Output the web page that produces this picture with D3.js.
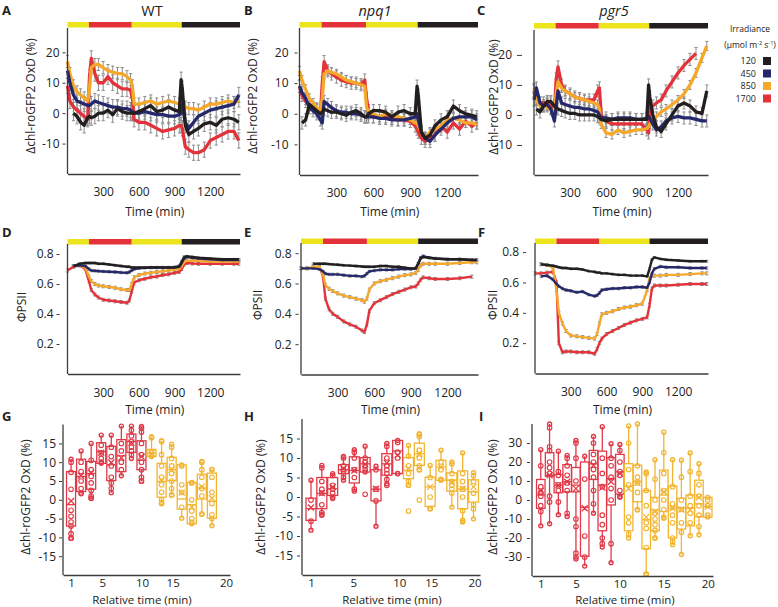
<!DOCTYPE html>
<html><head><meta charset="utf-8">
<script src="https://cdn.jsdelivr.net/npm/d3@7"></script>
<style>
body{margin:0;background:#fff}
svg{display:block}
text{font-family:"Open Sans",sans-serif;fill:#222}
</style></head>
<body><svg id="chart" width="778" height="607"></svg>
<script>
// ---------------- DATA ----------------
const levels = ["120","450","850","1700"];
const phases = [[0,180,"y"],[180,540,"r"],[540,960,"y"],[960,1450,"k"]];
const timeTicks = [300,600,900,1200];

// Top row: Δchl-roGFP2 OxD (%) over time (min)
const tOx = [0,20,50,80,110,140,170,185,200,230,260,300,340,380,420,460,500,530,545,560,600,650,700,750,800,850,900,940,955,965,990,1020,1060,1100,1150,1200,1250,1300,1350,1400,1440];

const oxWT_120  = [null,null,0,-1,-3,-4,-1.5,-1,-1.5,-1,0,0,1,-0.5,1.5,0.5,0,0,0,0,0.5,1.5,2.5,0.5,1,2,1,0.5,11,8,-4,-7,-6,-5,-3.5,-3,-4,-2,-1.5,-2,-3];
const oxWT_450  = [14,10,6,4,3.5,3,2.5,2.5,3,4,3.5,3,2.5,2,2,1.5,1.5,1,0.5,0,0,0.5,0,-0.5,-0.5,-1,-1,-0.5,0,3,-3,-5,-3,-1,0,1,1.5,2,2.5,3,6];
const oxWT_850  = [17,13,9,7,6,5,4,8,15,16,16,15,14,13.5,13,13,12,11,9,3,3,3.5,4,3,3.5,4,3.5,3,2,4,2,1.5,1.5,1,2,3,3,3.5,4,3.5,4];
const oxWT_1700 = [9,4,2,1,0,-1,-2,12,18,13,10,10,12,10,9,8,8,7.5,5,-2,-3,-3,-4,-5,-6,-5.5,-5,-4,-4,-5,-11,-12,-13,-13,-12,-9,-8,-7,-6,-6,-9];

const oxNPQ_120  = [null,-3,-2,3,2,1,0,0.5,1.5,1,0.5,0.5,0,-0.5,0.5,1,0,-1,-1,0,1,1,0.5,-1,0.5,1,0,0,9,6,-6,-8,-7,-4,-2,-1,2.5,1,0,-0.5,-1];
const oxNPQ_450  = [9,7,5,2,1,0,-2,-3,4,3,2,1,0.5,0.5,0,0,-0.5,-1,-1,-1,-1,-1.5,-1.5,-2,-2,-2,-1.5,-1,0,-2,-6,-8,-9,-7,-5,-3,-1.5,-1,-1,-1,-2];
const oxNPQ_850  = [14,11,8,5,3.5,2,1,5,13,14,13.5,13,12,11,10.5,10,9.5,9,2,1,0,-1,0,-0.5,-1,-1.5,-2,-3,-3,-4,-6,-8,-6,-5,-4,-2,-1.5,-2,-3,-3,-3.5];
const oxNPQ_1700 = [9,6,4,3,2,1.5,0,10,17,14,13,12,11,10.5,10,10,9.5,11,5,1,-1,-1,-1,-1.5,-2,-2,-2.5,-4,-5,-6,-8,-9,-8,-7,-4,-6,-3,-5,-2.5,-4,-3];

const oxPGR_120  = [null,2,1,3,4.5,4.5,3,2.5,2,1.5,1,0.5,0.5,0,0,0,0,-0.5,-1,-1.5,-2,-1.5,-1.5,-1.5,-1.5,-1.5,-1.5,-1.5,10,6,0,-4,-5.5,-3,0,3,4,3,1,0.5,8];
const oxPGR_450  = [5,9,4,3,3.5,2,-2,3,8,4,3.5,3,2.5,2.5,2,2,1.5,1,0,-1,-1,-1.5,-1,-1,-1,-1.5,-1.5,-1,-0.5,-1,-3,-5,-4,-2,-1,-0.5,-1,-1,-1.5,-2,-2];
const oxPGR_850  = [9,5,3,3,2.5,2,1,7,11,9,8,7,6,5.5,5,4.5,4,3.5,2,-3,-6,-6.5,-5,-6,-5.5,-5,-5,-4.5,-4,-3,-2,-0.5,1,2,3.5,5,7,10,14,19,23];
const oxPGR_1700 = [8,5,4,4,4,4,1,12,16,10,8,7,6,5.5,5,5,5,8,9,0,-2,-3,-3,-3,-3,-3,-3,-5,-6,3,3,4,5,8,11,14,16.5,18.5,20.5,null,null];

const errOxWT  = [2.5,2.5,2,2.5];
const errOxNPQ = [2,2,1.5,2];
const errOxPGR = [2,2,1.5,2];

// Middle row: ΦPSII over time (min)
const tPs = [0,50,100,150,180,200,230,260,300,350,400,450,500,520,540,560,600,650,700,750,800,850,900,940,960,980,1000,1050,1100,1200,1300,1400,1440];

const psWT_120  = [null,0.72,0.735,0.74,0.74, 0.74,0.74,0.735,0.735,0.73, 0.725,0.72,0.715,0.715,0.71, 0.71,0.71,0.71,0.71,0.71, 0.71,0.71,0.71,0.715,0.74, 0.77,0.785,0.78,0.775,0.77, 0.765,0.765,0.765];
const psWT_450  = [null,0.72,0.725,0.72,0.70, 0.69,0.688,0.686,0.684,0.682, 0.68,0.677,0.675,0.68,0.69, 0.70,0.705,0.708,0.71,0.71, 0.71,0.71,0.712,0.72,0.75, 0.78,0.78,0.775,0.77,0.765, 0.76,0.76,0.76];
const psWT_850  = [null,0.72,0.725,0.71,0.65, 0.62,0.60,0.59,0.585,0.58, 0.575,0.565,0.56,0.56,0.60, 0.645,0.66,0.67,0.675,0.68, 0.685,0.69,0.695,0.70,0.72, 0.745,0.755,0.755,0.755,0.75, 0.75,0.75,0.75];
const psWT_1700 = [0.69,0.715,0.725,0.70,0.62, 0.56,0.53,0.51,0.495,0.49, 0.485,0.48,0.475,0.49,0.55, 0.61,0.625,0.635,0.645,0.65, 0.66,0.665,0.675,0.68,0.70, 0.73,0.74,0.737,0.735,0.735, 0.735,0.735,0.735];

const psNPQ_120  = [null,null,0.73,0.73,0.73, 0.73,0.728,0.726,0.724,0.72, 0.718,0.715,0.712,0.71,0.71, 0.71,0.71,0.715,0.715,0.71, 0.71,0.705,0.70,0.70,0.73, 0.765,0.775,0.77,0.765,0.76, 0.76,0.755,0.755];
const psNPQ_450  = [0.70,0.70,0.70,0.695,0.68, 0.665,0.66,0.66,0.66,0.655, 0.65,0.65,0.645,0.65,0.665, 0.68,0.685,0.69,0.69,0.69, 0.695,0.695,0.695,0.70,0.73, 0.77,0.78,0.77,0.765,0.76, 0.76,0.755,0.755];
const psNPQ_850  = [0.70,0.70,0.71,0.71,0.66, 0.59,0.565,0.55,0.535,0.52, 0.51,0.50,0.49,0.48,0.50, 0.56,0.60,0.615,0.625,0.635, 0.645,0.655,0.66,0.67,0.69, 0.72,0.73,0.73,0.73,0.73, 0.735,0.74,0.74];
const psNPQ_1700 = [null,null,null,0.71,0.65, 0.50,0.43,0.40,0.38,0.35, 0.33,0.315,0.29,0.28,0.33, 0.42,0.47,0.49,0.51,0.53, 0.545,0.56,0.575,0.58,0.60, 0.625,0.64,0.635,0.63,0.63, 0.635,0.645,null];

const psPGR_120  = [null,0.72,0.715,0.71,0.705, 0.70,0.695,0.695,0.69,0.69, 0.685,0.675,0.67,0.665,0.665, 0.66,0.66,0.655,0.65,0.65, 0.645,0.645,0.645,0.64,0.69, 0.75,0.765,0.755,0.75,0.745, 0.74,0.74,0.74];
const psPGR_450  = [null,0.64,0.645,0.62,0.59, 0.575,0.56,0.55,0.545,0.535, 0.54,0.52,0.51,0.515,0.53, 0.55,0.555,0.56,0.56,0.565, 0.565,0.57,0.57,0.565,0.60, 0.66,0.69,0.705,0.70,0.70, 0.695,0.695,0.695];
const psPGR_850  = [null,0.72,0.715,0.70,0.55, 0.40,0.33,0.28,0.25,0.245, 0.24,0.235,0.23,0.26,0.33, 0.39,0.40,0.41,0.425,0.435, 0.44,0.45,0.46,0.55,0.63, 0.645,0.645,0.645,0.65,0.65, 0.655,0.66,0.66];
const psPGR_1700 = [0.66,0.66,0.665,0.67,0.60, 0.20,0.14,0.145,0.145,0.14, 0.14,0.14,0.13,0.16,0.20, 0.23,0.26,0.28,0.30,0.32, 0.335,0.35,0.36,0.37,0.45, 0.56,0.58,0.58,0.58,0.585, 0.59,0.59,0.59];

const errPs = [0.006,0.008,0.01,0.01];

// Bottom row: box plots, each row [min, q1, median, q3, max, mean]
const boxWT = [
 [-10.2,-7,-1.3,7.5,10.8,-0.3],[1.6,2.2,6.2,10.8,13,6.4],[0.4,2.8,7,10.2,15,7.2],[9.7,9.7,12.8,15.2,17.2,12.5],
 [1.9,5.1,9.3,14.2,17.2,9.9],[6.4,7.5,11.7,16,19.6,11.2],[11,12.6,15.5,17.5,19.6,15.2],[4.9,8,10.5,15.7,19.5,11.5],
 [11.5,11.5,12.4,13.4,16.8,12.4],[-0.7,0.7,4.9,9.7,15.7,5.3],[1.3,5.1,8,11.3,14.8,8],[-4.9,-2.5,0.2,9.3,9.3,1.9],
 [-6.4,-6.4,-1.3,4.6,4.6,-1.9],[-3.8,0.2,3.1,6.8,10.2,3.5],[-6.9,-4.9,-0.4,7.1,8.1,0.4]];
const ptsWT = [
 [10,7.3,2.8,-2.8,-4.4,-5.9,-7,-9,-10.2],[10,7.5,5,3,1.8],[10.5,8,6.2,4.5,2.5,1,0.4],[14.5,12.5,11,10],
 [14,11.5,9,6,4.5,3],[15,13,10,8],[18.5,17,15.5,14,13,12],[19,18,15,12,10,8,6,5],
 [16.5,12.5,11.8],[15.5,12,9,6,4,2,0,-1],[14,11,9,7,5,3,1.3],[9,4,2,-2],
 [4.5,0,-3,-5,-6],[10,8,6,3,1,-3.8],[8,6,2,-1,-4,-5]];
const redWT = 8;
const tickSlotsWT = [1,4.1,8.05,11.1,16.4];

const boxNPQ = [
 [-8.5,-6,-3,-0.3,4.3,-2.7],[-4.7,-3,0.9,5,8.1,1],[-0.4,0.4,2.1,5,6,2.6],[4.3,6,7,8.3,10.4,7.3],
 [1.5,3.6,6.8,10.3,12.1,6.8],[6.4,6.4,8.5,10.1,13,8.4],[-7.5,-1,2,7,7.9,2.1],[3.4,5.6,8.5,11.1,13.7,8.7],
 [6,6,11.8,14.5,14.5,10.7],[3,4.7,6.8,10.1,13.2,7.3],[7,8.1,11.1,13.8,16.2,11.1],[-3,-2.4,2.6,5.1,8.1,2.6],
 [4.3,4.3,7.7,9.4,12,7.7],[-2.6,1.5,4.3,6.2,9,3.8],[-6.4,-3,2,6.7,11.3,2.1],[-5.6,-1.3,1.3,4.4,6.2,2.6]];
const ptsNPQ = [
 [-0.8,-6.2],[7.5,4,2,1,-2,-4,-4.5],[5.5,3,2,1,0],[10,8,7,6,5],
 [11.5,10,7,5,2],[10,9,8,7,0.7],[7,2,-1],[13,10,8,7,6,4.5,3],
 [14,11.5,10,6],[10.5,8,6,4,3,-3.6],[16,15.5,12,10,8,7,-0.8],[5,0,-3],
 [9,7,4.5],[8.5,6,4,3,2,1],[6,4,2,0,-3.5,-6],[5.5,4,1,-2,-3]];
const redNPQ = 9;
const tickSlotsNPQ = [1,4.9,9.15,12.1,16.1];

const boxPGR = [
 [-13.6,-4.4,2.6,10.8,26.5,4.9],[-12.5,12.5,13,24.9,40,13],[-7.8,3.8,7.8,13.4,25.7,7.8],[-8.7,4.3,9.6,18.6,23.5,9.6],
 [-31,4.3,7.8,17.1,31.3,6],[-34.8,-29.6,-3.8,20,23,-4.3],[-7,10.8,19,26.1,33.4,18.3],[-24.7,-16.2,7.8,25.7,38.6,6.5],
 [-33,-2.6,11.3,22.3,29.6,9.6],[1.4,3.1,14.8,24,29.2,13.9],[-20,-16.2,7.3,19.1,39,6],[-5.2,-0.9,9.6,18.3,40,9],
 [-39,-25.7,-10.4,4.9,14.8,-9],[-20,-16.2,-5.2,1.4,21.2,-6.1],[-9.6,-6.1,2.6,15.7,35.7,4.3],[-23.5,-20,-4.3,7.3,21.2,-4.3],
 [-28.7,-15.3,-4,0.9,20.9,-5],[-18.8,-13.6,-4.3,2.6,24.7,-5.2],[-18.3,-8.7,-2,10.4,19.1,1.4],[-9,-9,-3.5,1.4,1.4,-3.5]];
const ptsPGR = [
 [18,7,4,2,-3,-6],[38,28,26,20,17,14,2,-1],[15,13,8,5,-1],[22,18,13,9,5,-7],
 [30,22,10,-10,-14,-28,-30],[11,-19,-30],[30,24,20,16,12,5,-2],[22,14,7,-8,-13,-20,-23],
 [22,18,12,6,0,-23],[26,20,15,13,5,2],[30,16,8,-9,-12,-18],[18,12,9,4,-5],
 [14,5,-3,-12,-15,-25,-39],[11,0,-7,-10,-13,-16,-20],[25,14,5,0,-5,-9],[7,-2,-8,-12,-20,-22],
 [12,0,-5,-12,-17],[15,2,-3,-7,-12],[14,8,2,-3,-8,-14],[0,-3,-8]];
const redPGR = 10;
const tickSlotsPGR = [1,5,10,15,20];
const relTickLabels = ["1","5","10","15","20"];

// ---------------- STYLE ----------------
const colors = {"120":"#231f20","450":"#25296b","850":"#f5a82a","1700":"#e4323b"};
const phaseColors = {y:"#ece41c", r:"#e4323b", k:"#231f20"};
const boxRed = "#e03a48", boxOrange = "#f2b531";
const axisColor = "#3c3c3c", errColor = "#8d8d8d";
const drawOrder = [3,2,1,0];
const FS = "12px";

const svg = d3.select("#chart");
const fmtPlain = d => String(d);

function styleAxis(g, fs){
  g.select(".domain").attr("stroke", axisColor).attr("stroke-width", 1.3);
  g.selectAll(".tick line").attr("stroke", axisColor).attr("stroke-width", 1);
  g.selectAll("text").attr("font-size", fs||FS).attr("fill", "#222")
   .style("font-family","'Open Sans', sans-serif");
}
function yAxis(y, o, ticks, fmt){
  svg.append("line").attr("x1",o.x0).attr("x2",o.x0).attr("y1",o.y0).attr("y2",o.y1)
     .attr("stroke",axisColor).attr("stroke-width",1.3);
  const ya = svg.append("g").attr("transform",`translate(${o.x0-o.yGap},0)`)
    .call(d3.axisLeft(y).tickValues(ticks).tickSize(o.yTick||3).tickSizeOuter(0).tickPadding(o.yPad).tickFormat(fmt));
  ya.select(".domain").remove();
  styleAxis(ya);
}

function timePanel(o){
  const x = d3.scaleLinear().domain([0,1450]).range([o.x0,o.x1]);
  const y = d3.scaleLinear().domain(o.yDom).range([o.y0,o.y1]);
  const g = svg.append("g");
  phases.forEach(p=>{
    g.append("rect").attr("x",x(p[0])).attr("width",x(p[1])-x(p[0]))
     .attr("y",o.barY).attr("height",5.5).attr("fill",phaseColors[p[2]]);
  });
  const eg = g.append("g").attr("stroke",errColor).attr("stroke-width",1);
  drawOrder.forEach(si=>{
    const vals = o.series[si], e = o.err[si];
    o.t.forEach((t,i)=>{
      const v = vals[i]; if(v==null) return;
      eg.append("line").attr("x1",x(t)).attr("x2",x(t)).attr("y1",y(v-e)).attr("y2",y(v+e));
      eg.append("line").attr("x1",x(t)-1.6).attr("x2",x(t)+1.6).attr("y1",y(v-e)).attr("y2",y(v-e));
      eg.append("line").attr("x1",x(t)-1.6).attr("x2",x(t)+1.6).attr("y1",y(v+e)).attr("y2",y(v+e));
    });
  });
  const line = d3.line().defined(d=>d[1]!=null).x(d=>x(d[0])).y(d=>y(d[1]));
  drawOrder.forEach(si=>{
    const pts = o.t.map((t,i)=>[t,o.series[si][i]]);
    g.append("path").datum(pts).attr("d",line).attr("fill","none")
     .attr("stroke",colors[levels[si]]).attr("stroke-width",o.lw)
     .attr("stroke-linejoin","round");
  });
  const xa = g.append("g").attr("transform",`translate(0,${o.y0})`)
    .call(d3.axisBottom(x).tickValues(timeTicks).tickSize(0).tickSizeOuter(0).tickPadding(o.xPad).tickFormat(fmtPlain));
  styleAxis(xa);
  yAxis(y, o, o.yTicks, o.fmt);
  g.append("text").attr("x",(o.x0+o.x1)/2+1).attr("y",o.xTitleY).attr("text-anchor","middle")
   .attr("font-size",FS).text("Time (min)");
  g.append("text").attr("transform",`translate(${o.yTitleX},${o.yTitleY}) rotate(-90)`)
   .attr("text-anchor","middle").attr("dominant-baseline","middle").attr("font-size",FS).text(o.yTitle);
}

function boxPanel(o){
  const x = d3.scaleLinear().domain(o.slotDom).range([o.x0,o.x1]);
  const y = d3.scaleLinear().domain(o.yDom).range([o.y0,o.y1]);
  const g = svg.append("g").attr("fill","none").attr("stroke-width",1.3);
  o.stats.forEach((s,i)=>{
    const c = i < o.nRed ? boxRed : boxOrange;
    const cx = x(i+1), w = o.bw;
    const [lo,q1,med,q3,hi,mean] = s;
    const b = g.append("g").attr("stroke",c);
    b.append("line").attr("x1",cx).attr("x2",cx).attr("y1",y(hi)).attr("y2",y(q3));
    b.append("line").attr("x1",cx).attr("x2",cx).attr("y1",y(q1)).attr("y2",y(lo));
    b.append("rect").attr("x",cx-w/2).attr("y",y(q3)).attr("width",w).attr("height",Math.max(1,y(q1)-y(q3))).attr("fill","none");
    b.append("line").attr("x1",cx-w/2).attr("x2",cx+w/2).attr("y1",y(med)).attr("y2",y(med));
    const m = 3, my = y(mean);
    b.append("path").attr("d",`M${cx-m},${my-m}L${cx+m},${my+m}M${cx-m},${my+m}L${cx+m},${my-m}`);
    o.pts[i].forEach(v=>{
      b.append("circle").attr("cx",cx).attr("cy",y(v)).attr("r",2.3).attr("stroke-width",1.1);
    });
    [lo,hi].forEach(v=>{
      b.append("circle").attr("cx",cx).attr("cy",y(v)).attr("r",2).attr("stroke-width",1.4);
    });
  });
  const xa = svg.append("g").attr("transform",`translate(0,${o.y0})`)
    .call(d3.axisBottom(x).tickValues(o.tickSlots).tickSize(0).tickSizeOuter(0).tickPadding(4)
      .tickFormat((d,i)=>relTickLabels[i]));
  styleAxis(xa, "11.5px");
  yAxis(y, o, o.yTicks, fmtPlain);
  svg.append("text").attr("x",o.xTitleX).attr("y",603.5).attr("text-anchor","middle")
   .attr("font-size","11.5px").text("Relative time (min)");
  svg.append("text").attr("transform",`translate(${o.yTitleX},497) rotate(-90)`)
   .attr("text-anchor","middle").attr("dominant-baseline","middle").attr("font-size",FS).text("Δchl-roGFP2 OxD (%)");
}

const oxTitle = "Δchl-roGFP2 OxD (%)";
const oxTicks = [-10,0,10,20];
timePanel({x0:67.5,x1:240,y0:174,y1:28,yDom:[-20,28],barY:22,t:tOx,
  series:[oxWT_120,oxWT_450,oxWT_850,oxWT_1700],err:errOxWT,lw:3.3,yTicks:oxTicks,fmt:fmtPlain,
  xPad:13,yGap:2,yPad:3,xTitleY:216,yTitleX:32,yTitleY:96,yTitle:oxTitle});
timePanel({x0:299.5,x1:478,y0:175,y1:28,yDom:[-20,28],barY:22,t:tOx,
  series:[oxNPQ_120,oxNPQ_450,oxNPQ_850,oxNPQ_1700],err:errOxNPQ,lw:3.3,yTicks:oxTicks,fmt:fmtPlain,
  xPad:13,yGap:2,yPad:6,xTitleY:216,yTitleX:254,yTitleY:96,yTitle:oxTitle});
timePanel({x0:534,x1:708,y0:175,y1:30,yDom:[-20,28.3],barY:23,t:tOx,
  series:[oxPGR_120,oxPGR_450,oxPGR_850,oxPGR_1700],err:errOxPGR,lw:3.3,yTicks:oxTicks,fmt:fmtPlain,
  xPad:13,yGap:12,yTick:5,yPad:5,xTitleY:216,yTitleX:495,yTitleY:97,yTitle:oxTitle});

const psTicks = [0.2,0.4,0.6,0.8];
const fmtPs = d3.format(".1f");
timePanel({x0:67.5,x1:240,y0:374,y1:244,yDom:[0,0.867],barY:239,t:tPs,
  series:[psWT_120,psWT_450,psWT_850,psWT_1700],err:errPs,lw:2.4,yTicks:psTicks,fmt:fmtPs,
  xPad:14,yGap:8,yPad:3,xTitleY:414,yTitleX:23,yTitleY:307,yTitle:"ΦPSII"});
timePanel({x0:301,x1:478,y0:374.5,y1:243,yDom:[0,0.867],barY:238.5,t:tPs,
  series:[psNPQ_120,psNPQ_450,psNPQ_850,psNPQ_1700],err:errPs,lw:2.4,yTicks:psTicks,fmt:fmtPs,
  xPad:14,yGap:2.5,yPad:4,xTitleY:414,yTitleX:259,yTitleY:305,yTitle:"ΦPSII"});
timePanel({x0:535,x1:708,y0:373.5,y1:243,yDom:[0,0.86],barY:238.5,t:tPs,
  series:[psPGR_120,psPGR_450,psPGR_850,psPGR_1700],err:errPs,lw:2.4,yTicks:psTicks,fmt:fmtPs,
  xPad:14,yGap:9,yPad:4,xTitleY:414,yTitleX:494,yTitleY:305,yTitle:"ΦPSII"});

const relTicks = [-15,-10,-5,0,5,10,15];
boxPanel({stats:boxWT,pts:ptsWT,nRed:redWT,tickSlots:tickSlotsWT,slotDom:[0.2,16.8],x0:63,x1:230,
  y0:575,y1:424.6,yDom:[-20,20],yTicks:relTicks,yGap:1,yPad:3,bw:9,xTitleX:142,yTitleX:27});
boxPanel({stats:boxNPQ,pts:ptsNPQ,nRed:redNPQ,tickSlots:tickSlotsNPQ,slotDom:[0.17,16.6],x0:302,x1:480,
  y0:575,y1:419,yDom:[-20,20],yTicks:relTicks,yGap:2,yPad:4,bw:10,xTitleX:392,yTitleX:262});
boxPanel({stats:boxPGR,pts:ptsPGR,nRed:redPGR,tickSlots:tickSlotsPGR,slotDom:[0,20.6],x0:532,x1:713,
  y0:576,y1:424,yDom:[-40,40],yTicks:[-30,-20,-10,0,10,20,30],yGap:2,yPad:5,bw:8.5,xTitleX:625,yTitleX:494});

// Titles and panel letters
[["WT",152,"normal"],["npq1",375,"italic"],["pgr5",614,"italic"]].forEach(d=>{
  svg.append("text").attr("x",d[1]).attr("y",16).attr("text-anchor","middle")
   .attr("font-size","14.5px").attr("font-style",d[2]).text(d[0]);
});
[["A",2,15],["B",244,15],["C",477,15],["D",2,237],["E",244,237],["F",478,237],["G",2,421],["H",244,421],["I",479,421]]
 .forEach(d=>{
  svg.append("text").attr("x",d[1]).attr("y",d[2]).attr("font-size","13px").attr("font-weight","bold").text(d[0]);
 });

// Legend
svg.append("text").attr("x",750).attr("y",32).attr("text-anchor","middle").attr("font-size","8.5px").text("Irradiance");
const lt = svg.append("text").attr("x",750).attr("y",48).attr("text-anchor","middle").attr("font-size","8.5px");
lt.append("tspan").text("(µmol m");
lt.append("tspan").attr("font-size","5.5px").attr("dy",-3).text("-2");
lt.append("tspan").attr("dy",3).text(" s");
lt.append("tspan").attr("font-size","5.5px").attr("dy",-3).text("-1");
lt.append("tspan").attr("dy",3).text(")");
levels.forEach((l,i)=>{
  const cy = 61 + i*12.5;
  svg.append("text").attr("x",756).attr("y",cy).attr("dy","0.35em").attr("text-anchor","end")
   .attr("font-size","9px").text(l);
  svg.append("rect").attr("x",763).attr("y",cy-4).attr("width",8).attr("height",8).attr("fill",colors[l]);
});
</script>
</body></html>
